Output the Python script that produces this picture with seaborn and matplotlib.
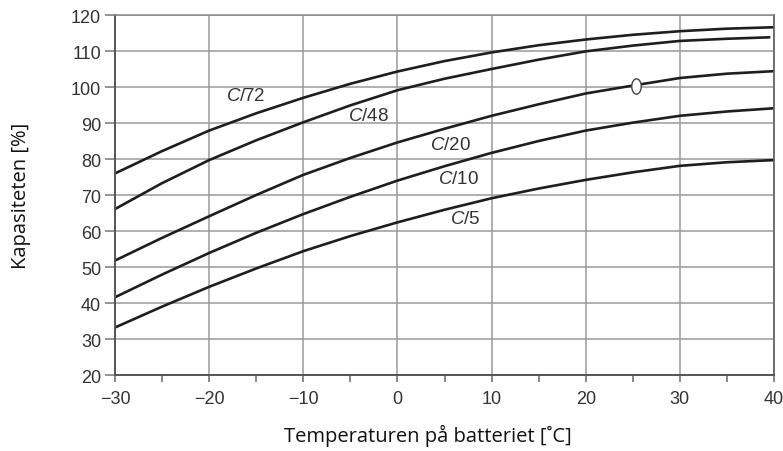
import numpy as np
import pandas as pd
import matplotlib
matplotlib.use("Agg")
import matplotlib.pyplot as plt
from matplotlib.path import Path
from matplotlib.ticker import MultipleLocator
import seaborn as sns

# ---- data ----
temp = [-30, -25, -20, -15, -10, -5, 0, 5, 10, 15, 20, 25, 30, 35, 40]
temp_c48 = [-30, -25, -20, -15, -10, -5, 0, 5, 10, 15, 20, 25, 30, 35, 39.5]
cap_c72 = [76.0, 82.2, 87.9, 92.7, 97.0, 100.9, 104.3, 107.2, 109.6, 111.6, 113.2, 114.5, 115.5, 116.2, 116.6]
cap_c48 = [66.1, 73.3, 79.7, 85.2, 90.2, 94.9, 99.1, 102.3, 105.0, 107.6, 109.9, 111.5, 112.8, 113.4, 113.8]
cap_c20 = [51.8, 58.1, 64.1, 70.0, 75.6, 80.3, 84.6, 88.4, 92.0, 95.2, 98.2, 100.4, 102.5, 103.7, 104.4]
cap_c10 = [41.6, 47.9, 53.9, 59.5, 64.7, 69.5, 74.0, 78.0, 81.7, 85.0, 87.9, 90.1, 92.0, 93.2, 94.1]
cap_c5 = [33.2, 39.0, 44.5, 49.6, 54.4, 58.6, 62.4, 65.9, 69.1, 71.8, 74.2, 76.3, 78.1, 79.1, 79.7]

series_names = ["C/72", "C/48", "C/20", "C/10", "C/5"]
label_x = [-16.1, -3.1, 5.6, 6.5, 7.2]
label_y = [97.6, 92.0, 83.9, 74.7, 63.6]
marker_point = (25.3, 100.4)

x_ticks = [-30, -20, -10, 0, 10, 20, 30, 40]
y_ticks = [20, 30, 40, 50, 60, 70, 80, 90, 100, 110, 120]

frames = []
for name, xs, ys in zip(series_names,
                        [temp, temp_c48, temp, temp, temp],
                        [cap_c72, cap_c48, cap_c20, cap_c10, cap_c5]):
    frames.append(pd.DataFrame({"temp": xs, "cap": ys, "rate": name}))
df = pd.concat(frames, ignore_index=True)

# ---- style ----
sns.set_theme(style="white")
plt.rcParams["font.family"] = ["Liberation Sans", "DejaVu Sans"]
plt.rcParams["mathtext.fontset"] = "custom"
plt.rcParams["mathtext.it"] = "Liberation Sans:italic"
plt.rcParams["mathtext.rm"] = "Liberation Sans"

fig = plt.figure(figsize=(7.83, 4.52), dpi=100)
ax = fig.add_axes([0.1469, 0.1681, 0.8416, 0.7965])

sns.lineplot(data=df, x="temp", y="cap", hue="rate", palette=["#1e1e1e"] * 5,
             legend=False, ax=ax, linewidth=1.9, sort=False, estimator=None)
for ln in ax.get_lines():
    ln.set_solid_joinstyle("round")

# small open ellipse marker on C/20
t = np.linspace(0, 2 * np.pi, 60)
ell = Path(np.column_stack([0.62 * np.cos(t), np.sin(t)]))
ax.plot([marker_point[0]], [marker_point[1]], marker=ell, markersize=11,
        markerfacecolor="white", markeredgecolor="#444444", markeredgewidth=1.0,
        linestyle="none", zorder=5)

for name, lx, ly in zip(series_names, label_x, label_y):
    c, rest = name.split("/")
    ax.text(lx, ly, "$C$/" + rest, ha="center", va="center", fontsize=13.5,
            color="#333333")

ax.set_xlim(-30, 40)
ax.set_ylim(20, 120)
ax.set_xticks(x_ticks)
ax.set_yticks(y_ticks)
ax.xaxis.set_minor_locator(MultipleLocator(5))
ax.set_xticklabels(["\u221230", "\u221220", "\u221210", "0", "10", "20", "30", "40"])
ax.grid(True, which="major", color="#9a9a9a", linewidth=1.1)
ax.set_axisbelow(True)

for side in ["left", "bottom"]:
    ax.spines[side].set_color("#555555")
    ax.spines[side].set_linewidth(1.4)
ax.spines["top"].set_color("#888888")
ax.spines["top"].set_linewidth(1.1)
ax.spines["right"].set_color("#666666")
ax.spines["right"].set_linewidth(1.3)

ax.tick_params(axis="y", which="major", direction="out", length=7, width=1.1,
               color="#777777", labelsize=13, labelcolor="#333333", left=True, pad=3)
ax.tick_params(axis="x", which="major", direction="out", length=5, width=1.1,
               color="#666666", labelsize=13, labelcolor="#333333", bottom=True, pad=6)
ax.tick_params(axis="x", which="minor", direction="out", length=5, width=1.1,
               color="#666666", bottom=True)

ax.set_xlabel("Temperaturen på batteriet [\u02daC]", fontsize=14.5, family="Open Sans",
              color="#111111")
ax.set_ylabel("Kapasiteten [%]", fontsize=14.5, family="Open Sans",
              color="#111111")
ax.xaxis.set_label_coords(0.475, -0.135)
ax.yaxis.set_label_coords(-0.127, 0.5)

fig.savefig("out.png", dpi=100, facecolor="white")
